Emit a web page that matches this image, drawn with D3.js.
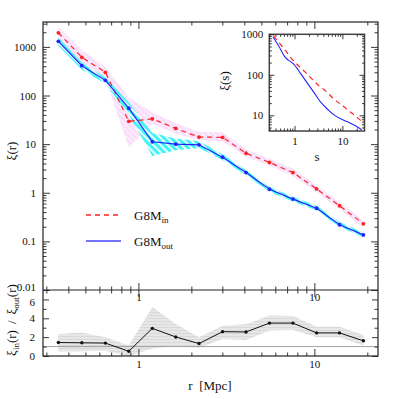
<!DOCTYPE html>
<html>
<head>
<meta charset="utf-8">
<script src="https://cdnjs.cloudflare.com/ajax/libs/d3/7.8.5/d3.min.js"></script>
<style>
  body { margin: 0; background: #fff; }
  svg { display: block; }
  text { font-family: "Liberation Serif", "DejaVu Serif", serif; fill: #111; }
</style>
</head>
<body>
<svg id="chart"></svg>
<script>
'use strict';

// separation bins, r [Mpc]
var rBins = [0.351, 0.477, 0.649, 0.882, 1.20, 1.63, 2.21, 3.01, 4.09, 5.56, 7.56, 10.3, 13.9, 19.0];

// G8M_in
var xiIn   = [1950, 610, 300, 29.5, 33, 21, 14, 13.8, 6.5, 4.2, 2.6, 1.2, 0.54, 0.23];
var xiInHi = [2600, 850, 390, 90, 45, 27, 18, 17.5, 7.8, 5.0, 3.1, 1.4, 0.64, 0.27];
var xiInLo = [1500, 460, 230, 8.5, 26, 16.5, 12, 11.5, 5.5, 3.6, 2.2, 1.02, 0.46, 0.19];

// G8M_out
var xiOut   = [1300, 410, 205, 55, 11.2, 10, 9.7, 5.4, 2.6, 1.18, 0.74, 0.48, 0.22, 0.136];
var xiOutHi = [1550, 470, 235, 72, 17, 13, 11.5, 6.2, 2.9, 1.32, 0.83, 0.54, 0.25, 0.152];
var xiOutLo = [1050, 340, 175, 40, 5.7, 7.5, 8.3, 4.7, 2.3, 1.05, 0.66, 0.43, 0.20, 0.122];

// ratio xi_in / xi_out
var ratio   = [1.43, 1.40, 1.37, 0.50, 2.93, 2.02, 1.32, 2.58, 2.55, 3.49, 3.49, 2.45, 2.45, 1.61];
var ratioHi = [2.34, 2.50, 2.00, 1.12, 5.20, 3.40, 2.00, 3.20, 3.38, 4.30, 4.25, 3.10, 3.10, 2.23];
var ratioLo = [0.49, 0.50, 0.55, 0.00, 0.80, 1.05, 0.88, 1.80, 1.70, 2.70, 2.75, 2.00, 2.00, 1.10];

// inset, redshift-space xi(s)
var sIn   = [0.365, 0.504, 0.695, 0.883, 1.31, 2.12, 3.16, 4.73, 6.49, 9.71, 14.5, 23.4, 27];
var xiSIn = [910, 570, 356, 245, 154, 88, 55, 37.7, 26, 17.9, 12.3, 7.7, 6.5];
var sOut   = [0.355, 0.464, 0.64, 0.953, 1.31, 1.67, 2.49, 3.72, 5.1, 7.05, 12.4, 18.4, 25.4];
var xiSOut = [859, 519, 269, 185, 112, 74, 38, 19.6, 13.5, 9.8, 7.0, 5.6, 4.4];

var mainTicks = ['1000', '100', '10', '1', '0.1', '0.01'];
var ratioTicks = [0, 2, 4, 6];

var svg = d3.select('#chart').attr('width', 399).attr('height', 399);

var box = { left: 43, right: 378, top: 22, mid: 290, bottom: 356 },
    inset = { left: 269.3, right: 364.5, top: 34.3, bottom: 131 };

var x = d3.scaleLog().domain([0.287, 23]).range([box.left, box.right]);
var y = d3.scaleLog().domain([0.01, 3250]).range([box.mid, box.top]);
var yR = d3.scaleLinear().domain([0, 7]).range([box.bottom, box.mid]);
var xs = d3.scaleLog().domain([0.297, 29]).range([inset.left, inset.right]);
var ys = d3.scaleLog().domain([4.1, 1000]).range([inset.bottom, inset.top]);

var logTicks = function(domain) {
    var major = [], minor = [];
    for (var e = Math.floor(Math.log10(domain[0])); e <= Math.ceil(Math.log10(domain[1])); e++) {
        for (var m = 1; m < 10; m++) {
            var v = m * Math.pow(10, e);
            if (v < domain[0] * 0.999 || v > domain[1] * 1.001) continue;
            (m === 1 ? major : minor).push(v);
        }
    }
    return { major: major, minor: minor };
};

var blank = function() { return ''; };

var addAxis = function(axisFn, scale, vals, size, fmt, tx, ty, pad) {
    var ax = axisFn(scale).tickValues(vals).tickSize(size)
        .tickPadding(pad || 4).tickFormat(fmt || blank);
    var g = svg.append('g').attr('transform', 'translate(' + tx + ',' + ty + ')').call(ax);
    g.select('.domain').remove();
    g.attr('font-family', null).attr('font-size', 11);
    g.selectAll('line').attr('stroke', '#222').attr('stroke-width', 0.9);
    return g;
};

// patterns
var defs = svg.append('defs');
var hatch = function(id, bg, fg, w, angle) {
    var p = defs.append('pattern').attr('id', id).attr('patternUnits', 'userSpaceOnUse')
        .attr('width', w).attr('height', w).attr('patternTransform', 'rotate(' + angle + ')');
    p.append('rect').attr('width', w).attr('height', w).attr('fill', bg);
    p.append('rect').attr('width', w * 0.35).attr('height', w).attr('fill', fg);
};
hatch('hPink', '#f9dcf9', '#fdf0fd', 4, -45);
hatch('hCyan', '#3ff5f5', '#ffffff', 5, -45);
hatch('hGray', '#e7e7e7', '#d9d9d9', 3, 90);

defs.append('clipPath').attr('id', 'clipMain').append('rect')
    .attr('x', box.left).attr('y', box.top).attr('width', box.right - box.left).attr('height', box.mid - box.top);
defs.append('clipPath').attr('id', 'clipRatio').append('rect')
    .attr('x', box.left).attr('y', box.mid).attr('width', box.right - box.left).attr('height', box.bottom - box.mid);
defs.append('clipPath').attr('id', 'clipInset').append('rect')
    .attr('x', inset.left).attr('y', inset.top).attr('width', inset.right - inset.left).attr('height', inset.bottom - inset.top);

// main panel
var main = svg.append('g').attr('clip-path', 'url(#clipMain)');

var band = function(g, lo, hi, ys_, fill) {
    var area = d3.area()
        .x(function(d, i) { return x(rBins[i]); })
        .y0(function(d, i) { return ys_(lo[i]); })
        .y1(function(d, i) { return ys_(hi[i]); });
    g.append('path').attr('d', area(rBins)).attr('fill', fill).attr('stroke', 'none');
};

band(main, xiInLo, xiInHi, y, 'url(#hPink)');
band(main, xiOutLo, xiOutHi, y, 'url(#hCyan)');

var series = function(g, vals, ys_, color, dash, r, w) {
    var line = d3.line()
        .x(function(d, i) { return x(rBins[i]); })
        .y(function(d) { return ys_(d); });
    g.append('path').attr('d', line(vals)).attr('fill', 'none')
        .attr('stroke', color).attr('stroke-width', w).attr('stroke-dasharray', dash);
    g.selectAll(null).data(vals).enter().append('circle')
        .attr('cx', function(d, i) { return x(rBins[i]); })
        .attr('cy', function(d) { return ys_(d); })
        .attr('r', r).attr('fill', color);
};

series(main, xiIn, y, '#ff2222', '5,4', 1.9, 1.2);
series(main, xiOut, y, '#2222ff', null, 1.9, 1.2);

// ratio panel
var low = svg.append('g').attr('clip-path', 'url(#clipRatio)');
band(low, ratioLo, ratioHi, yR, 'url(#hGray)');
low.append('line').attr('x1', box.left).attr('x2', box.right)
    .attr('y1', yR(1)).attr('y2', yR(1)).attr('stroke', '#999').attr('stroke-width', 0.9);
series(low, ratio, yR, '#111', null, 1.7, 1);

// frames
svg.append('rect').attr('x', box.left).attr('y', box.top)
    .attr('width', box.right - box.left).attr('height', box.bottom - box.top)
    .attr('fill', 'none').attr('stroke', '#222').attr('stroke-width', 1.2);
svg.append('line').attr('x1', box.left).attr('x2', box.right)
    .attr('y1', box.mid).attr('y2', box.mid).attr('stroke', '#222').attr('stroke-width', 1.2);

// axes
var lxM = logTicks(x.domain()), lyM = logTicks(y.domain());
var fmtMain = function(d) {
    var k = Math.round(Math.log10(d));
    return mainTicks[3 - k];
};
var fmtX = function(d) { return d >= 10 ? '10' : '1'; };

var yMainAx = addAxis(d3.axisLeft, y, lyM.major, -7, fmtMain, box.left, 0, 7);
yMainAx.selectAll('text').filter(function(d) { return d < 0.05; }).attr('dy', '0.05em');
addAxis(d3.axisLeft, y, lyM.minor, -3.5, null, box.left, 0);
addAxis(d3.axisRight, y, lyM.major, -7, null, box.right, 0);
addAxis(d3.axisRight, y, lyM.minor, -3.5, null, box.right, 0);
addAxis(d3.axisTop, x, lxM.major, -7, null, 0, box.top);
addAxis(d3.axisTop, x, lxM.minor, -3.5, null, 0, box.top);
addAxis(d3.axisBottom, x, lxM.major, -7, fmtX, 0, box.mid, 3);
addAxis(d3.axisBottom, x, lxM.minor, -3.5, null, 0, box.mid);

addAxis(d3.axisTop, x, lxM.major, -7, null, 0, box.mid);
addAxis(d3.axisTop, x, lxM.minor, -3.5, null, 0, box.mid);
addAxis(d3.axisBottom, x, lxM.major, -7, fmtX, 0, box.bottom, 4);
addAxis(d3.axisBottom, x, lxM.minor, -3.5, null, 0, box.bottom);
var yRAx = addAxis(d3.axisLeft, yR, ratioTicks, -6, d3.format('d'), box.left, 0, 8);
yRAx.selectAll('text').filter(function(d) { return d === 6; }).attr('dy', '0.55em');
addAxis(d3.axisLeft, yR, [1, 3, 5], -3.5, null, box.left, 0);
addAxis(d3.axisRight, yR, ratioTicks, -6, null, box.right, 0);
addAxis(d3.axisRight, yR, [1, 3, 5], -3.5, null, box.right, 0);

// axis titles
svg.append('text').attr('transform', 'translate(16,151) rotate(-90)')
    .attr('text-anchor', 'middle').attr('font-size', 13).text('ξ(r)');

var rl = svg.append('text').attr('transform', 'translate(16,320) rotate(-90)')
    .attr('text-anchor', 'middle').attr('font-size', 13);
rl.append('tspan').text('ξ');
rl.append('tspan').attr('font-size', 9).attr('dy', 3).text('in');
rl.append('tspan').attr('dy', -3).text('(r)');
rl.append('tspan').attr('dx', 6).text('/');
rl.append('tspan').attr('dx', 6).text('ξ');
rl.append('tspan').attr('font-size', 9).attr('dy', 3).text('out');
rl.append('tspan').attr('dy', -3).text('(r)');

svg.append('text').attr('x', 210).attr('y', 390).attr('text-anchor', 'middle')
    .attr('font-size', 13).attr('xml:space', 'preserve').text('r  [Mpc]');

// legend
var legend = [
    { name: 'in', color: '#ff2222', dash: '5,4', y: 215 },
    { name: 'out', color: '#4444ff', dash: null, y: 241 }
];
legend.forEach(function(l) {
    svg.append('line').attr('x1', 86).attr('x2', 121).attr('y1', l.y).attr('y2', l.y)
        .attr('stroke', l.color).attr('stroke-width', 1.3).attr('stroke-dasharray', l.dash);
    var t = svg.append('text').attr('x', 134).attr('y', l.y + 4.5).attr('font-size', 13);
    t.append('tspan').text('G8M');
    t.append('tspan').attr('font-size', 9).attr('dy', 3).text(l.name);
});

// inset
svg.append('rect').attr('x', inset.left).attr('y', inset.top)
    .attr('width', inset.right - inset.left).attr('height', inset.bottom - inset.top)
    .attr('fill', '#fff');

var ins = svg.append('g').attr('clip-path', 'url(#clipInset)');
var sLine = function(sv, xv) {
    return d3.line().curve(d3.curveMonotoneX)
        .x(function(d, i) { return xs(sv[i]); })
        .y(function(d) { return ys(d); })(xv);
};
ins.append('path').attr('d', sLine(sIn, xiSIn)).attr('fill', 'none')
    .attr('stroke', '#ff2222').attr('stroke-width', 1.2).attr('stroke-dasharray', '5,4');
ins.append('path').attr('d', sLine(sOut, xiSOut)).attr('fill', 'none')
    .attr('stroke', '#2222ff').attr('stroke-width', 1.1);

svg.append('rect').attr('x', inset.left).attr('y', inset.top)
    .attr('width', inset.right - inset.left).attr('height', inset.bottom - inset.top)
    .attr('fill', 'none').attr('stroke', '#444').attr('stroke-width', 1.5);

var lxS = logTicks(xs.domain()), lyS = logTicks(ys.domain());
addAxis(d3.axisLeft, ys, lyS.major, -5, function(d) { return String(Math.round(d)); }, inset.left, 0, 6);
addAxis(d3.axisLeft, ys, lyS.minor, -2.5, null, inset.left, 0);
addAxis(d3.axisRight, ys, lyS.major, -5, null, inset.right, 0);
addAxis(d3.axisRight, ys, lyS.minor, -2.5, null, inset.right, 0);
addAxis(d3.axisTop, xs, lxS.major, -5, null, 0, inset.top);
addAxis(d3.axisTop, xs, lxS.minor, -2.5, null, 0, inset.top);
addAxis(d3.axisBottom, xs, lxS.major, -5, function(d) { return String(Math.round(d)); }, 0, inset.bottom, 6);
addAxis(d3.axisBottom, xs, lxS.minor, -2.5, null, 0, inset.bottom);

svg.append('text').attr('transform', 'translate(229,81) rotate(-90)')
    .attr('text-anchor', 'middle').attr('font-size', 13).text('ξ(s)');
svg.append('text').attr('x', 317).attr('y', 161).attr('text-anchor', 'middle')
    .attr('font-size', 13).text('s');
</script>
</body>
</html>
